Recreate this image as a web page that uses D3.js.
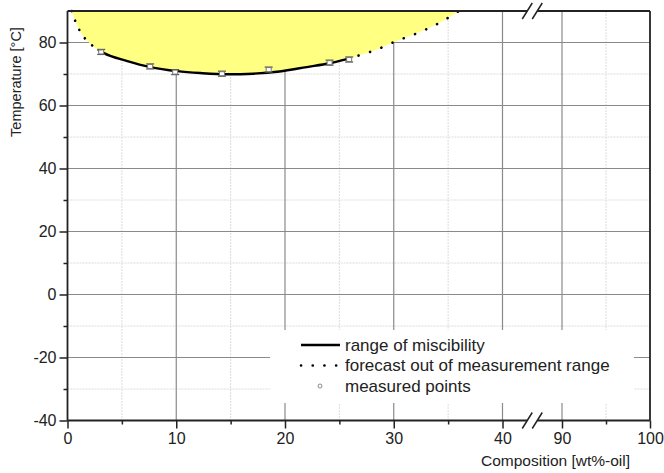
<!DOCTYPE html>
<html>
<head>
<meta charset="utf-8">
<script src="https://cdn.jsdelivr.net/npm/d3@7"></script>
<style>
  body { margin: 0; background: #fff; }
  svg { display: block; font-family: "Liberation Sans", Arial, sans-serif; }
</style>
</head>
<body>
<svg id="chart" width="664" height="473"></svg>
<script>
// measured points (wt%-oil, °C) with error bars
const pointX = [3.1, 7.6, 9.9, 14.2, 18.5, 24.1, 25.9];
const pointY = [77.0, 72.4, 70.6, 70.1, 71.4, 73.6, 74.6];
const pointErr = [0.8, 0.8, 0.8, 0.8, 0.8, 0.8, 0.8];

// range of miscibility (solid) and forecast (dotted)
const solidX = [2.8, 3.3, 5.5, 7.6, 10.1, 12.2, 14.7, 17.1, 19.5, 22.0, 24.1, 25.7];
const solidY = [77.7, 76.7, 74.1, 72.2, 70.9, 70.3, 69.9, 70.1, 70.8, 72.2, 73.4, 74.7];
const leftX = [0.4, 0.75, 1.25, 2.1, 2.8];
const leftY = [90, 86.5, 83, 79.6, 77.7];
const rightX = [25.7, 27.0, 28.4, 30.2, 32.4, 34.5, 36.0];
const rightY = [74.7, 76.1, 77.7, 80.4, 83.3, 86.8, 90];

const xMajor = [0, 10, 20, 30, 40, 90, 100];
const xMinor = [5, 15, 25, 35, 95];
const yMajor = [-40, -20, 0, 20, 40, 60, 80];
const yMinor = [-30, -10, 10, 30, 50, 70];

const legendLabels = ['range of miscibility', 'forecast out of measurement range', 'measured points'];

const zip = (xs, ys) => xs.map((x, i) => [x, ys[i]]);

const svg = d3.select('#chart');

// broken x axis: 0..40 then 90..100
const x = d3.scaleLinear().domain([0, 40, 90, 100]).range([67.5, 502.5, 562, 650]);
const y = d3.scaleLinear().domain([-40, 90]).range([420.5, 11]);
const yTop = y(90), yBottom = y(-40), xLeft = x(0), xRight = x(100);
const breakX = (x(40) + x(90)) / 2;

// grid
const grid = svg.append('g');
grid.selectAll('.vmin').data(xMinor).join('line')
    .attr('x1', d => x(d)).attr('x2', d => x(d)).attr('y1', yTop).attr('y2', yBottom)
    .attr('stroke', '#dcdcdc').attr('stroke-width', 1).attr('stroke-dasharray', '2 1');
grid.selectAll('.hmin').data(yMinor).join('line')
    .attr('y1', d => y(d)).attr('y2', d => y(d)).attr('x1', xLeft).attr('x2', xRight)
    .attr('stroke', '#dcdcdc').attr('stroke-width', 1).attr('stroke-dasharray', '2 1');
grid.selectAll('.vmaj').data(xMajor.filter(d => d > 0 && d < 100)).join('line')
    .attr('x1', d => x(d)).attr('x2', d => x(d)).attr('y1', yTop).attr('y2', yBottom)
    .attr('stroke', '#8a8a8a').attr('stroke-width', 1.2);
grid.selectAll('.hmaj').data(yMajor.filter(d => d > -40)).join('line')
    .attr('y1', d => y(d)).attr('y2', d => y(d)).attr('x1', xLeft).attr('x2', xRight)
    .attr('stroke', '#8a8a8a').attr('stroke-width', 1.2);

// yellow region above the curve
const line = d3.line().x(d => x(d[0])).y(d => y(d[1])).curve(d3.curveMonotoneX);
const boundary = zip(leftX, leftY).concat(zip(solidX, solidY).slice(1), zip(rightX, rightY).slice(1));
svg.append('path')
    .attr('d', line(boundary) + `L${x(0)},${y(90)}Z`)
    .attr('fill', '#ffff82');

svg.append('path').attr('d', line(zip(leftX, leftY)))
    .attr('fill', 'none').attr('stroke', '#000').attr('stroke-width', 2.6)
    .attr('stroke-linecap', 'round').attr('stroke-dasharray', '0.1 10');
svg.append('path').attr('d', line(zip(rightX, rightY)))
    .attr('fill', 'none').attr('stroke', '#000').attr('stroke-width', 2.6)
    .attr('stroke-linecap', 'round').attr('stroke-dasharray', '0.1 12');
svg.append('path').attr('d', line(zip(solidX, solidY)))
    .attr('fill', 'none').attr('stroke', '#000').attr('stroke-width', 2.4);

// error bars + markers
const pts = pointX.map((d, i) => ({ x: d, y: pointY[i], e: pointErr[i] }));
const eb = svg.append('g').attr('stroke', '#555').attr('stroke-width', 1.2);
eb.selectAll('.v').data(pts).join('line')
    .attr('x1', d => x(d.x)).attr('x2', d => x(d.x))
    .attr('y1', d => y(d.y + d.e)).attr('y2', d => y(d.y - d.e));
eb.selectAll('.t').data(pts).join('line')
    .attr('x1', d => x(d.x) - 4).attr('x2', d => x(d.x) + 4)
    .attr('y1', d => y(d.y + d.e)).attr('y2', d => y(d.y + d.e));
eb.selectAll('.b').data(pts).join('line')
    .attr('x1', d => x(d.x) - 4).attr('x2', d => x(d.x) + 4)
    .attr('y1', d => y(d.y - d.e)).attr('y2', d => y(d.y - d.e));
svg.selectAll('.pt').data(pts).join('rect')
    .attr('x', d => x(d.x) - 2.5).attr('y', d => y(d.y) - 2)
    .attr('width', 5).attr('height', 4)
    .attr('fill', '#fff').attr('stroke', '#777').attr('stroke-width', 1);

// legend
const lg = svg.append('g');
lg.append('rect').attr('x', 270).attr('y', 330).attr('width', 364).attr('height', 73).attr('fill', '#fff');
const rows = lg.selectAll('.row').data(legendLabels).join('g')
    .attr('transform', (d, i) => `translate(301,${345 + i * 20.5})`);
rows.append('text').attr('x', 44).attr('dy', '0.35em')
    .attr('font-size', 17).attr('fill', '#222').text(d => d);
rows.filter((d, i) => i === 0).append('line')
    .attr('x1', 0).attr('x2', 39).attr('stroke', '#000').attr('stroke-width', 2.4);
rows.filter((d, i) => i === 1).append('line')
    .attr('x1', 0).attr('x2', 36).attr('stroke', '#000').attr('stroke-width', 2.6)
    .attr('stroke-linecap', 'round').attr('stroke-dasharray', '0.1 11.6');
rows.filter((d, i) => i === 2).append('circle')
    .attr('cx', 19).attr('r', 2).attr('fill', '#fff').attr('stroke', '#888').attr('stroke-width', 1);

// axes
const axisColor = '#222';
const fmt = d => String(d);
const styleAxis = g => {
    g.select('.domain').remove();
    g.selectAll('line').attr('stroke', axisColor).attr('stroke-width', 1.5);
    g.selectAll('text').attr('fill', '#222').attr('font-size', 16)
        .attr('font-family', '"Liberation Sans", Arial, sans-serif');
};
svg.append('g').attr('transform', `translate(0,${yBottom})`)
    .call(d3.axisBottom(x).tickValues(xMajor).tickSize(8).tickPadding(4).tickFormat(fmt))
    .call(styleAxis);
svg.append('g').attr('transform', `translate(0,${yBottom})`)
    .call(d3.axisBottom(x).tickValues(xMinor).tickSize(4).tickFormat(''))
    .call(styleAxis);
svg.append('g').attr('transform', `translate(${xLeft},0)`)
    .call(d3.axisLeft(y).tickValues(yMajor).tickSize(8).tickPadding(3).tickFormat(fmt))
    .call(styleAxis);
svg.append('g').attr('transform', `translate(${xLeft},0)`)
    .call(d3.axisLeft(y).tickValues(yMinor).tickSize(4).tickFormat(''))
    .call(styleAxis);

// frame with breaks
const frame = svg.append('g').attr('stroke', axisColor).attr('stroke-width', 1.8).attr('fill', 'none');
[yTop, yBottom].forEach(yy => {
    frame.append('line').attr('x1', xLeft).attr('x2', breakX - 5).attr('y1', yy).attr('y2', yy);
    frame.append('line').attr('x1', breakX + 5).attr('x2', xRight).attr('y1', yy).attr('y2', yy);
    [-5, 5].forEach(dx => {
        frame.append('line')
            .attr('x1', breakX + dx - 5).attr('y1', yy + 8)
            .attr('x2', breakX + dx + 5).attr('y2', yy - 8)
            .attr('stroke-width', 1.5);
    });
});
frame.append('line').attr('x1', xLeft).attr('x2', xLeft).attr('y1', yTop).attr('y2', yBottom);
frame.append('line').attr('x1', xRight).attr('x2', xRight).attr('y1', yTop).attr('y2', yBottom);

// titles
svg.append('text').attr('x', 630).attr('y', 466).attr('text-anchor', 'end')
    .attr('font-size', 15.5).attr('fill', '#222').text('Composition [wt%-oil]');
svg.append('text').attr('transform', 'translate(21,82) rotate(-90)')
    .attr('text-anchor', 'middle').attr('font-size', 14.5).attr('fill', '#222').text('Temperature [°C]');
</script>
</body>
</html>
